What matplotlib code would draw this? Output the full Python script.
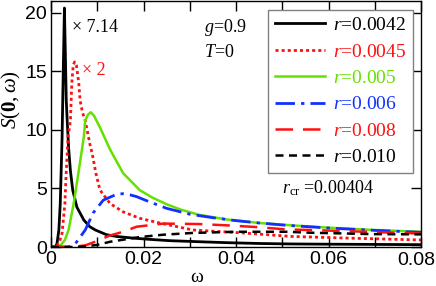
import matplotlib
matplotlib.use("Agg")
import matplotlib.pyplot as plt
from matplotlib.ticker import MultipleLocator, FuncFormatter

plt.rcParams['mathtext.fontset'] = 'custom'
plt.rcParams['mathtext.rm'] = 'Liberation Serif'
plt.rcParams['mathtext.it'] = 'Liberation Serif:italic'
plt.rcParams['mathtext.bf'] = 'Liberation Serif:bold'

# r = 0.0042 (x 7.14)
w1 = [0.0, 0.0010, 0.0013, 0.0017, 0.0020, 0.0022, 0.0024, 0.00265, 0.0029, 0.0031, 0.0033, 0.0035, 0.0038,
      0.0042, 0.0047, 0.0056, 0.0071, 0.0084, 0.0096, 0.012, 0.0142, 0.018, 0.0214, 0.0257, 0.032, 0.038,
      0.045, 0.052, 0.06, 0.07, 0.08]
s1 = [0.0, 0.02, 0.3, 1.45, 3.7, 6.5, 9.4, 15.0, 20.4, 16.5, 12.5, 10.8, 8.5,
      6.5, 4.85, 3.4, 2.3, 1.73, 1.45, 1.05, 0.9, 0.75, 0.65, 0.54, 0.45, 0.37,
      0.3, 0.26, 0.24, 0.22, 0.2]
# r = 0.0045 (x 2)
w2 = [0.0, 0.0012, 0.0018, 0.0024, 0.0030, 0.0033, 0.0037, 0.0042, 0.0045, 0.0048, 0.0051, 0.0055, 0.0060,
      0.0063, 0.0068, 0.0074, 0.0084, 0.0089, 0.0097, 0.0106, 0.0128, 0.0156, 0.0192, 0.0229, 0.0307,
      0.0415, 0.052, 0.065, 0.08]
s2 = [0.0, 0.05, 0.4, 1.2, 3.7, 6.5, 9.4, 10.8, 14.0, 15.5, 15.8, 15.5, 14.0,
      12.5, 11.5, 10.8, 8.8, 8.0, 6.3, 4.85, 3.7, 3.0, 2.45, 2.1, 1.45,
      1.2, 0.9, 0.75, 0.6]
# r = 0.005
w3 = [0.0, 0.0015, 0.0022, 0.0030, 0.0038, 0.0049, 0.0060, 0.0071, 0.0074, 0.0080, 0.0086, 0.0093, 0.0106,
      0.0128, 0.0156, 0.0192, 0.022, 0.025, 0.028, 0.032, 0.038, 0.045, 0.052, 0.06, 0.07, 0.08]
s3 = [0.0, 0.02, 0.2, 0.6, 1.45, 3.7, 6.5, 9.4, 10.8, 11.3, 11.5, 11.2, 10.2,
      8.3, 6.3, 4.85, 4.2, 3.65, 3.2, 2.75, 2.35, 2.05, 1.85, 1.65, 1.45, 1.3]
# r = 0.006
w4 = [0.0, 0.0038, 0.0053, 0.0074, 0.0091, 0.0113, 0.0142, 0.0155, 0.0171, 0.0185, 0.021, 0.025,
      0.030, 0.035, 0.040, 0.045, 0.051, 0.06, 0.07, 0.08]
s4 = [0.0, 0.0, 0.3, 1.45, 2.9, 4.0, 4.5, 4.55, 4.45, 4.3, 3.9, 3.3,
      2.8, 2.5, 2.25, 2.05, 1.85, 1.62, 1.42, 1.25]
# r = 0.008
w5 = [0.0, 0.0048, 0.0075, 0.0099, 0.0125, 0.0156, 0.0185, 0.0243, 0.032, 0.038, 0.0445, 0.051,
      0.056, 0.068, 0.08]
s5 = [0.0, 0.0, 0.15, 0.5, 0.95, 1.3, 1.73, 2.0, 1.96, 1.85, 1.7, 1.5,
      1.45, 1.3, 1.15]
# r = 0.010
w6 = [0.0, 0.006, 0.0099, 0.0128, 0.0192, 0.0243, 0.0307, 0.040, 0.051, 0.056, 0.0697, 0.08]
s6 = [0.0, 0.0, 0.17, 0.45, 0.85, 1.05, 1.2, 1.3, 1.3, 1.22, 1.1, 1.08]

labels = ['0.0042', '0.0045', '0.005', '0.006', '0.008', '0.010']
colors = ['black', '#ff1010', '#66e000', '#1030ff', '#ff1010', 'black']
styles = ['-', (0, (1.1, 1.1)), '-', (0, (7, 2.2, 1.2, 2.2)), (0, (7, 4)), (0, (3.2, 2.2))]
widths = [2.0, 2.0, 1.8, 2.0, 1.8, 1.8]
xs = [w1, w2, w3, w4, w5, w6]
ys = [s1, s2, s3, s4, s5, s6]

fig = plt.figure(figsize=(4.36, 2.86), dpi=100)
ax = fig.add_axes([51/436, 39/286, 370/436, 246/286])

lines = []
for x, y, c, ls, lw, lab in zip(xs, ys, colors, styles, widths, labels):
    ln, = ax.plot(x, y, color=c, linestyle=ls, lw=lw, label=r'$r$=' + lab)
    lines.append(ln)

XMAX = 0.08
ax.set_xlim(0, XMAX)
ax.set_ylim(0, 21)
ax.xaxis.set_major_locator(MultipleLocator(0.01))


def xfmt(v, p):
    if abs(v) < 1e-9:
        return '0'
    if round(v * 100) % 2 != 0 or abs(v - XMAX) < 1e-9:
        return ''
    return '%.2f' % v


ax.xaxis.set_major_formatter(FuncFormatter(xfmt))
ax.yaxis.set_major_locator(MultipleLocator(5))
ax.tick_params(direction='in', length=7, width=1, top=True, right=True,
               labelsize=14, pad=3, labelfontfamily='Liberation Sans')
for sp in ax.spines.values():
    sp.set_linewidth(1.0)

# last x tick label, nudged left so it stays inside the figure
ax.annotate('%.2f' % XMAX, xy=(XMAX, 0), xycoords=('data', 'axes fraction'),
            xytext=(-3.5, -3.6), textcoords='offset points', ha='center', va='top',
            family='Liberation Sans', fontsize=14)

ax.set_xlabel('ω', family='Liberation Serif', fontsize=14, labelpad=0)
ax.xaxis.set_label_coords(0.395, -0.09)
ax.set_ylabel(r'$S(\mathbf{0},\omega)$', fontsize=15)
ax.yaxis.set_label_coords(-0.075, 0.6)

serif = dict(family='Liberation Serif', fontsize=13)
ax.text(0.0045, 18.7, '× 7.14', color='black', va='center', ha='left', **serif)
ax.text(0.0068, 15.1, '× 2', color='#ff1010', va='center', ha='left', **serif)
ax.text(0.0331, 18.7, r'$g$=0.9', color='black', va='center', ha='left', **serif)
ax.text(0.0331, 16.6, r'$T$=0', color='black', va='center', ha='left', **serif)
ax.text(0.0500, 5.0, r'$r_{\rm cr}$ =0.00404', color='black', va='center', ha='left', **serif)

leg = ax.legend(handles=lines, loc='upper right', bbox_to_anchor=(0.9785, 0.964),
                prop={'family': 'Liberation Serif', 'size': 14},
                handlelength=2.6, handletextpad=0.4, labelspacing=0.45,
                borderpad=0.35, fancybox=False, framealpha=1, borderaxespad=0)
leg.get_frame().set_edgecolor('#808080')
leg.get_frame().set_linewidth(1.0)
for t, c in zip(leg.get_texts(), colors):
    t.set_color(c)
    t.set_ha('left')

fig.savefig('out.png', dpi=100)
